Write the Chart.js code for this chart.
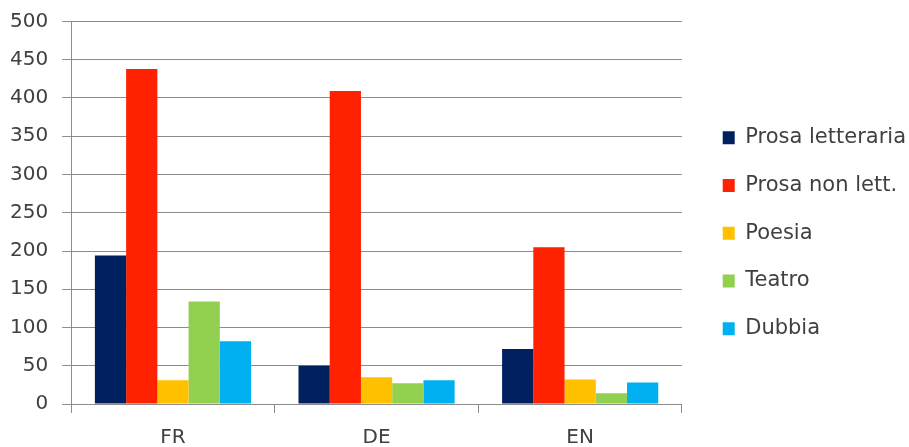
<!DOCTYPE html>
<html>
<head>
<meta charset="utf-8">
<script src="https://cdn.jsdelivr.net/npm/chart.js@4/dist/chart.umd.min.js"></script>
<style>
  html, body { margin: 0; padding: 0; background: #ffffff; }
  #wrap { width: 909px; height: 447px; position: relative; }
</style>
</head>
<body>
<div id="wrap"><canvas id="c"></canvas></div>
<script>
// Languages on the x axis
const categories = ['FR', 'DE', 'EN'];

// Counts per genre, one array per series
const prosaLetteraria = [194, 50, 72];
const prosaNonLett = [438, 409, 205];
const poesia = [31, 35, 32];
const teatro = [134, 27, 14];
const dubbia = [82, 31, 28];

const seriesNames = ['Prosa letteraria', 'Prosa non lett.', 'Poesia', 'Teatro', 'Dubbia'];
const seriesColors = ['#002060', '#ff2200', '#ffc000', '#92d050', '#00b0f0'];
const seriesValues = [prosaLetteraria, prosaNonLett, poesia, teatro, dubbia];

const axisColor = '#8c8c8c';
const textColor = '#404040';
const fontFamily = '"DejaVu Sans", sans-serif';

// Legend spacing: extra room to the left of the legend column
const legendExtraWidth = 7;
const legendShiftX = 14;
const legendShiftY = -1;

const legendSpacing = {
  id: 'legendSpacing',
  afterInit(chart) {
    const legend = chart.legend;
    if (!legend) return;
    const fit = legend.fit;
    legend.fit = function () {
      fit.call(this);
      this.width += legendExtraWidth;
    };
    const draw = legend.draw;
    legend.draw = function () {
      const ctx = this.ctx;
      ctx.save();
      ctx.translate(legendShiftX, legendShiftY);
      draw.call(this);
      ctx.restore();
    };
  }
};

const datasets = seriesNames.map((name, i) => ({
  label: name,
  data: seriesValues[i],
  backgroundColor: seriesColors[i],
  borderWidth: 0,
  barPercentage: 1.0,
  categoryPercentage: 0.767
}));

new Chart(document.getElementById('c'), {
  type: 'bar',
  data: { labels: categories, datasets },
  plugins: [legendSpacing],
  options: {
    responsive: true,
    maintainAspectRatio: false,
    animation: false,
    layout: { padding: { left: -4, right: 0, top: 5.5, bottom: -16 } },
    plugins: {
      tooltip: { enabled: false },
      legend: {
        position: 'right',
        align: 'center',
        labels: {
          boxWidth: 12,
          boxHeight: 13,
          padding: 26.75,
          color: textColor,
          font: { family: fontFamily, size: 21 }
        }
      }
    },
    scales: {
      x: {
        grid: {
          display: true,
          offset: true,
          drawOnChartArea: false,
          drawTicks: true,
          tickLength: 9,
          color: axisColor
        },
        border: { color: axisColor, width: 1 },
        ticks: { color: textColor, font: { family: fontFamily, size: 20 }, padding: 13 }
      },
      y: {
        min: 0,
        max: 500,
        ticks: { stepSize: 50, color: textColor, font: { family: fontFamily, size: 20, lineHeight: 0.75 }, padding: 14 },
        grid: { color: axisColor, tickLength: 9 },
        border: { color: axisColor, width: 1 }
      }
    }
  }
});
</script>
</body>
</html>
